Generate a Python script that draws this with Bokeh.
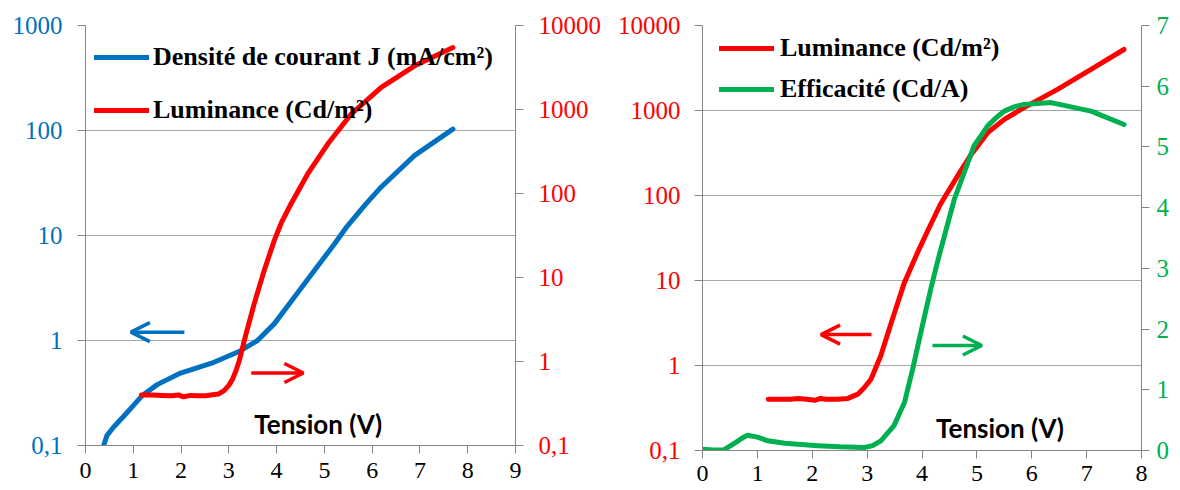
from bokeh.plotting import figure
from bokeh.layouts import row
from bokeh.models import (Range1d, LogAxis, LinearAxis, LogScale, LinearScale, FixedTicker,
                          Legend, LegendItem, Arrow, OpenHead, Label, CustomJSTickFormatter)
from bokeh.embed import file_html
from bokeh.resources import INLINE

# ---------------- left panel data ----------------
x_ticks_left = [0, 1, 2, 3, 4, 5, 6, 7, 8, 9]
j_ticks = [0.1, 1, 10, 100, 1000]
lum_ticks_left = [0.1, 1, 10, 100, 1000, 10000]

j_tension = [0.38, 0.45, 0.59, 0.8, 1.0, 1.19, 1.5, 1.99, 2.69, 3.25, 3.6, 3.95, 4.37,
             4.79, 5.21, 5.45, 5.87, 6.19, 6.89, 7.69]
j_density = [0.1, 0.125, 0.15, 0.19, 0.24, 0.30, 0.38, 0.49, 0.62, 0.80, 1.0, 1.44,
             2.58, 4.63, 8.3, 11.8, 20, 29, 58, 103]

lumL_tension = [1.17, 1.4, 1.6, 1.8, 1.95, 2.05, 2.2, 2.35, 2.5, 2.62, 2.78, 2.90, 3.0,
                3.08, 3.15, 3.22, 3.36, 3.53, 3.74, 3.95, 4.1, 4.30, 4.65, 5.07, 5.56,
                6.19, 6.89, 7.69]
lumL_values = [0.40, 0.40, 0.395, 0.39, 0.40, 0.38, 0.395, 0.39, 0.39, 0.40, 0.41, 0.45,
               0.52, 0.62, 0.78, 1.03, 2.13, 4.85, 12.1, 27.5, 45, 75, 171, 388, 883,
               1830, 3310, 5470]

# ---------------- right panel data ----------------
x_ticks_right = [0, 1, 2, 3, 4, 5, 6, 7, 8]
lum_ticks_right = [0.1, 1, 10, 100, 1000, 10000]
eff_ticks = [0, 1, 2, 3, 4, 5, 6, 7]

lumR_tension = [1.2, 1.4, 1.6, 1.75, 1.9, 2.05, 2.15, 2.25, 2.46, 2.65, 2.83, 2.95, 3.07,
                3.25, 3.46, 3.68, 3.92, 4.1, 4.34, 4.65, 4.89, 5.20, 5.50, 5.86, 6.47,
                7.08, 7.68]
lumR_values = [0.40, 0.40, 0.40, 0.41, 0.40, 0.39, 0.41, 0.40, 0.40, 0.41, 0.46, 0.55,
               0.69, 1.31, 3.5, 9.5, 21.4, 38, 80, 170, 300, 550, 787, 1080, 1770,
               3040, 5220]

eff_tension = [0, 0.2, 0.39, 0.6, 0.75, 0.82, 1.0, 1.19, 1.5, 2.1, 2.5, 2.95, 3.1, 3.25,
               3.49, 3.68, 3.83, 3.98, 4.16, 4.28, 4.44, 4.59, 4.77, 4.95, 5.20, 5.35,
               5.50, 5.68, 5.86, 6.35, 7.08, 7.68]
eff_values = [0.02, 0.01, 0.01, 0.13, 0.22, 0.25, 0.22, 0.16, 0.12, 0.08, 0.06, 0.05,
              0.08, 0.16, 0.41, 0.79, 1.34, 1.95, 2.66, 3.10, 3.64, 4.14, 4.58, 5.02,
              5.35, 5.48, 5.59, 5.66, 5.70, 5.73, 5.59, 5.37]

BLUE = "#0070C0"
RED = "#FF0000"
GREEN = "#00B050"
AXIS = "#868686"
GRID = "#A6A6A6"
SERIF = "'Liberation Serif', 'Times New Roman', 'DejaVu Serif', serif"

log_fmt = "return tick < 0.5 ? '0,1' : String(Math.round(tick));"


def style_axis(ax, color, size="25px", standoff=14, tick_out=8):
    ax.axis_line_color = AXIS
    ax.major_tick_line_color = AXIS
    ax.major_tick_out = tick_out
    ax.major_tick_in = 0
    ax.minor_tick_line_color = None
    ax.major_label_text_color = color
    ax.major_label_text_font = SERIF
    ax.major_label_text_font_size = size
    ax.major_label_standoff = standoff


def base_figure(fw, fh, bl, br, bt, bb, xr, yr):
    p = figure(frame_width=fw, frame_height=fh, min_border_left=bl, min_border_right=br,
               min_border_top=bt, min_border_bottom=bb, x_range=xr, y_range=yr,
               y_axis_type="log", output_backend="svg", toolbar_location=None)
    p.outline_line_color = None
    p.background_fill_color = "white"
    p.border_fill_color = "white"
    p.xgrid.visible = False
    p.ygrid.grid_line_color = GRID
    p.ygrid.grid_line_width = 1
    return p


# ================= LEFT PANEL =================
p1 = base_figure(430, 420, 85, 90, 25, 45, Range1d(0, 9), Range1d(0.1, 1000))
p1.extra_y_ranges = {"lum": Range1d(0.1, 10000)}
p1.extra_y_scales = {"lum": LogScale()}
axr1 = LogAxis(y_range_name="lum")
p1.add_layout(axr1, "right")

xa1 = p1.below[0]
xa1.ticker = FixedTicker(ticks=x_ticks_left)
style_axis(xa1, "black", size="24px", standoff=9, tick_out=8)
ya1 = p1.left[0]
ya1.ticker = FixedTicker(ticks=j_ticks)
ya1.formatter = CustomJSTickFormatter(code=log_fmt)
style_axis(ya1, BLUE, size="25px", standoff=15)
axr1.ticker = FixedTicker(ticks=lum_ticks_left)
axr1.formatter = CustomJSTickFormatter(code=log_fmt)
style_axis(axr1, RED, size="25px", standoff=15)

r_j = p1.line(j_tension, j_density, line_color=BLUE, line_width=5,
              line_cap="round", line_join="round")
r_l1 = p1.line(lumL_tension, lumL_values, y_range_name="lum", line_color=RED,
               line_width=5, line_cap="round", line_join="round")

leg1 = Legend(items=[LegendItem(label="Densité de courant J (mA/cm²)", renderers=[r_j]),
                     LegendItem(label="Luminance (Cd/m²)", renderers=[r_l1])],
              location=(9, 312), padding=0, margin=0, spacing=7, glyph_width=55,
              glyph_height=46, label_height=46, label_standoff=4,
              label_text_font=SERIF, label_text_font_style="bold",
              label_text_font_size="26px", label_text_color="black",
              border_line_color=None, background_fill_alpha=0)
p1.add_layout(leg1)

p1.add_layout(Arrow(end=OpenHead(size=19, line_color=BLUE, line_width=3.5),
                    x_start=2.07, y_start=1.2, x_end=0.95, y_end=1.2,
                    line_color=BLUE, line_width=3.5))
p1.add_layout(Arrow(end=OpenHead(size=19, line_color=RED, line_width=3.5),
                    x_start=3.47, y_start=0.49, x_end=4.56, y_end=0.49,
                    line_color=RED, line_width=3.5))
p1.add_layout(Label(x=4.87, y=0.161, text="Tension (V)", text_font="Lato",
                    text_font_style="bold", text_font_size="26px",
                    text_align="center", text_baseline="middle", text_color="black"))

# ================= RIGHT PANEL =================
p2 = base_figure(439, 425, 97, 39, 23, 42, Range1d(0, 8), Range1d(0.1, 10000))
p2.extra_y_ranges = {"eff": Range1d(0, 7)}
p2.extra_y_scales = {"eff": LinearScale()}
axr2 = LinearAxis(y_range_name="eff")
p2.add_layout(axr2, "right")

xa2 = p2.below[0]
xa2.ticker = FixedTicker(ticks=x_ticks_right)
style_axis(xa2, "black", size="24px", standoff=7, tick_out=8)
ya2 = p2.left[0]
ya2.ticker = FixedTicker(ticks=lum_ticks_right)
ya2.formatter = CustomJSTickFormatter(code=log_fmt)
style_axis(ya2, RED, size="25px", standoff=14)
axr2.ticker = FixedTicker(ticks=eff_ticks)
style_axis(axr2, GREEN, size="25px", standoff=7, tick_out=8)

r_l2 = p2.line(lumR_tension, lumR_values, line_color=RED, line_width=5,
               line_cap="round", line_join="round")
r_e = p2.line(eff_tension, eff_values, y_range_name="eff", line_color=GREEN,
              line_width=5, line_cap="round", line_join="round")

leg2 = Legend(items=[LegendItem(label="Luminance (Cd/m²)", renderers=[r_l2]),
                     LegendItem(label="Efficacité (Cd/A)", renderers=[r_e])],
              location=(17, 343), padding=0, margin=0, spacing=5, glyph_width=55,
              glyph_height=36, label_height=36, label_standoff=6,
              label_text_font=SERIF, label_text_font_style="bold",
              label_text_font_size="26px", label_text_color="black",
              border_line_color=None, background_fill_alpha=0)
p2.add_layout(leg2)

p2.add_layout(Arrow(end=OpenHead(size=19, line_color=RED, line_width=3.5),
                    x_start=3.08, y_start=2.31, x_end=2.16, y_end=2.31,
                    line_color=RED, line_width=3.5))
p2.add_layout(Arrow(end=OpenHead(size=19, line_color=GREEN, line_width=3.5),
                    x_start=4.19, y_start=1.73, x_end=5.09, y_end=1.73,
                    y_range_name="eff", line_color=GREEN, line_width=3.5))
p2.add_layout(Label(x=5.42, y=0.185, text="Tension (V)", text_font="Lato",
                    text_font_style="bold", text_font_size="26px",
                    text_align="center", text_baseline="middle", text_color="black"))

layout = row(p1, p2, spacing=0)
open("out.html", "w").write(file_html(layout, INLINE))
